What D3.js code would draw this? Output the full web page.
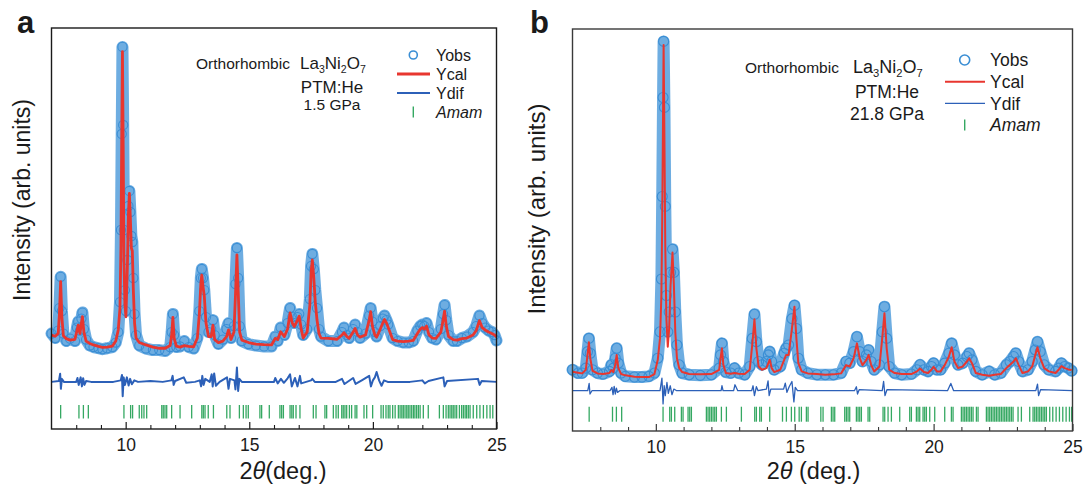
<!DOCTYPE html>
<html>
<head>
<meta charset="utf-8">
<script src="https://cdn.jsdelivr.net/npm/d3@7"></script>
<style>
body { margin: 0; background: #fff; }
text { font-family: "Liberation Sans", Arial, sans-serif; fill: #1a1a1a; }
</style>
</head>
<body>
<svg id="chart" width="1086" height="484"></svg>
<script>
// ---- panel a : 1.5 GPa ----  rows are [2theta, Yobs, Ycal]
const profileA = [
  [7.00,5.5,5.0],[7.15,4.0,4.6],[7.27,6.5,5.5],[7.32,14,12],[7.37,24.4,22.8],[7.42,13,11],[7.48,5.5,4.8],
  [7.60,3.0,3.8],[7.75,3.8,3.3],[7.95,3.0,3.6],[8.03,7.5,6.5],[8.08,9.5,8.3],[8.15,6.5,5.5],[8.21,10.5,9],
  [8.25,12.5,11.1],[8.31,7,6],[8.40,3.5,3.0],[8.55,1.5,2.2],[8.70,1.0,1.7],[8.90,0.6,1.2],[9.06,0.3,0.9],
  [9.25,0.6,1.0],[9.46,1.0,1.3],[9.60,2.5,3.0],[9.70,6.0,6.7],[9.77,16,14],[9.81,40,35],[9.84,72,70],
  [9.87,101,99.4],[9.90,75,68],[9.93,40,30],[9.97,20,15],[10.01,13,11.1],[10.07,30,28],[10.11,48,45],
  [10.15,53,52.2],[10.19,46,44],[10.23,38,34],[10.27,36,33],[10.31,24,20],[10.36,12,9],[10.42,5,4],
  [10.55,1.5,2.5],[10.82,0.5,1.7],[11.10,0.0,1.0],[11.36,0.0,0.6],[11.60,-0.3,0.6],[11.80,1.0,1.5],
  [11.86,6,5],[11.91,12,10.9],[11.96,5,4],[12.05,1,1.3],[12.20,1.2,1.0],[12.37,3.0,1.5],[12.55,1.0,1.2],
  [12.75,0.5,1.1],[12.90,4,4],[12.98,13,12],[13.04,24,22],[13.08,27,25],[13.13,24,21],[13.18,20,18],
  [13.25,11,9],[13.35,6,4.5],[13.46,7,4.5],[13.53,10,8.3],[13.60,5,3.5],[13.75,2,2.5],[13.93,3.5,3.0],
  [14.08,7,4.5],[14.16,9,6.7],[14.26,4,3.5],[14.38,8,6],[14.44,22,18],[14.50,34,31.7],[14.55,24,20],
  [14.61,8,6],[14.70,3,3.3],[14.97,2,2.5],[15.27,1.5,2.0],[15.60,1.2,1.8],[15.90,1.2,1.7],[16.05,4.5,3.9],
  [16.15,3,3.5],[16.27,7.5,6.1],[16.42,5,4.5],[16.55,9,7],[16.65,14,12.4],[16.74,11,9],[16.82,9,7.8],
  [16.95,11,10],[17.02,12,11.3],[17.10,8.5,7],[17.18,5,4],[17.34,7,6],[17.45,17,15],[17.50,28,26],
  [17.55,32,30],[17.61,27,24],[17.67,20,16],[17.74,14,10],[17.82,7,5.5],[17.90,4.5,4],[18.20,3,3.9],
  [18.55,3,3.6],[18.75,6,5],[18.83,7.5,5.8],[18.95,5,4.5],[19.04,4,3.9],[19.20,7,6],[19.28,8.5,7.2],
  [19.38,6,5],[19.48,4,4.3],[19.70,5.5,5],[19.85,11.5,10],[19.91,14,12.8],[19.98,9.5,8],[20.08,6,5],
  [20.15,4.5,4.3],[20.30,8,7],[20.40,10.5,9],[20.47,11.5,10.2],[20.55,10,9],[20.62,8.5,7.5],[20.80,4,3.5],
  [21.00,3,3.0],[21.23,2.5,2.8],[21.45,2.5,3.0],[21.63,3,3.2],[21.80,6.5,5.5],[21.92,8,7],[22.00,8.5,7.5],
  [22.08,8,7],[22.17,9,8],[22.27,6,5],[22.40,4,4],[22.55,3.5,3.9],[22.75,7,6],[22.84,12,10],[22.90,15,13],
  [22.97,10,8],[23.06,5,4.5],[23.25,3,3.5],[23.40,3,3.3],[23.60,4,3.8],[23.80,4.5,4],[24.05,6,5],
  [24.18,8,6.5],[24.31,11.5,9.8],[24.42,9,7.5],[24.54,7.5,6.7],[24.68,6.5,6],[24.81,6,5.5],[24.92,5,5],
  [25.00,3.2,4.4]
];
// difference curve [2theta, Yobs-Ycal]
const diffA = [
  [7.0,0],[7.30,0.3],[7.35,2.7],[7.38,-2.3],[7.42,1],[7.50,0],[8.00,0],[8.05,1.3],[8.10,-1],[8.18,1.5],
  [8.23,-1.5],[8.28,1.2],[8.33,-1],[8.40,0.3],[8.60,0],[9.50,0],[9.80,0.5],[9.85,2.3],[9.88,-4.8],
  [9.92,1.5],[9.97,-1],[10.05,1.5],[10.12,-1.2],[10.18,1],[10.25,-0.8],[10.35,0.5],[10.50,0],[11.0,0.3],
  [11.5,0],[11.85,0.5],[11.90,2],[11.94,-1],[12.0,0.3],[12.35,1.5],[12.45,-0.3],[12.8,0],[13.0,0.5],
  [13.05,-1.5],[13.10,2],[13.15,-1],[13.22,1],[13.40,0],[13.48,2.5],[13.52,-1.5],[13.58,2.8],[13.65,-1.3],
  [13.80,0],[14.10,1.5],[14.16,-2.3],[14.22,1],[14.40,0.5],[14.44,-2.5],[14.50,4.8],[14.55,-3],[14.60,1],
  [14.70,0],[16.0,0],[16.05,1.3],[16.15,-0.5],[16.28,1],[16.40,-0.3],[16.55,1.2],[16.65,2.5],[16.72,-1.5],
  [16.85,1.3],[16.95,-1.5],[17.05,2],[17.10,-0.5],[17.5,0.5],[17.55,1],[17.65,0],[18.5,0],[18.75,1],
  [18.85,-0.7],[19.2,1.3],[19.3,-0.7],[19.55,0.5],[19.85,2],[19.92,-1.5],[20.0,0.5],[20.08,1.5],
  [20.15,3.3],[20.25,0.5],[20.35,-1.3],[20.45,0.5],[20.6,0],[21.5,0],[22.0,0.5],[22.1,-0.5],[22.25,0.3],
  [22.85,1.5],[22.9,-1.5],[23.0,0.3],[24.25,1],[24.32,-1],[24.4,0.3],[25.0,0]
];
// Amam reflection positions
const hklA = [7.37,8.11,8.29,8.49,9.93,10.20,10.28,10.55,10.65,10.74,10.85,11.46,11.52,11.59,11.66,11.86,
  12.20,12.67,13.08,13.14,13.21,13.34,13.55,14.09,14.22,14.60,14.76,14.87,14.96,15.43,15.50,15.81,16.24,
  16.31,16.38,16.65,16.72,16.78,16.89,17.05,17.59,17.70,18.06,18.13,18.40,18.51,18.60,18.74,18.80,18.87,
  18.94,19.05,19.14,19.28,19.35,19.64,19.75,19.99,20.33,20.42,20.53,20.62,20.69,20.80,20.90,21.03,21.10,
  21.17,21.23,21.30,21.37,21.43,21.50,21.57,21.64,21.70,21.77,21.84,21.91,22.04,22.24,22.69,22.85,22.96,
  23.05,23.12,23.19,23.25,23.32,23.39,23.50,23.59,23.66,23.73,23.79,23.86,23.93,24.06,24.20,24.33,24.47,
  24.61,24.74,24.85];

// ---- panel b : 21.8 GPa ----  rows are [2theta, Yobs, Ycal]
const profileB = [
  [7.00,2.5,1.9],[7.20,1.5,1.6],[7.35,1.5,1.4],[7.48,3,2.5],[7.54,8,7],[7.59,12,10.8],[7.64,7.5,6],
  [7.72,2.5,2.2],[7.90,1.5,1.4],[8.10,1.2,1.2],[8.33,2,1.5],[8.40,4,2.4],[8.47,3,1.8],[8.54,6,4],
  [8.59,9,7],[8.65,4.5,3],[8.75,1.5,1.2],[8.90,0.5,0.8],[9.23,0.3,0.4],[9.50,0.3,0.3],[9.75,0.5,0.3],
  [9.95,1.5,1.2],[10.07,6,5.5],[10.15,14,12],[10.20,30,25],[10.23,55,48],[10.26,85,80],[10.28,102,100.9],
  [10.31,82,72],[10.34,52,40],[10.38,25,18],[10.43,14,9.5],[10.48,20,15],[10.53,32,28],[10.60,39,38],
  [10.65,32,28],[10.70,20,14],[10.76,10,6],[10.84,4,3],[10.95,1.5,1.8],[11.20,1.0,1.2],[11.60,0.8,1.1],
  [12.00,1.0,1.2],[12.28,3,2.5],[12.33,7,6],[12.38,10.5,9],[12.43,5,4],[12.52,1.8,1.5],[12.70,1.5,1.3],
  [12.83,3,1.5],[12.98,1.5,1.3],[13.20,1,1.2],[13.38,3.5,2.5],[13.47,12,10],[13.55,19.3,17.8],
  [13.62,11,9],[13.70,5,3.5],[13.82,4,2.5],[13.98,5,3],[14.05,7,4.5],[14.10,8,5.5],[14.17,5,3],
  [14.26,2.5,1.8],[14.48,3.5,2.5],[14.62,7.5,5.5],[14.69,9,7],[14.78,10,7],[14.90,18,15],[14.99,22,21.6],
  [15.06,15,12],[15.13,6,4.5],[15.25,2.5,2.0],[15.47,1.5,1.4],[15.80,1.0,1.2],[16.10,1.0,1.0],
  [16.40,1.0,1.1],[16.67,1.5,1.4],[16.85,5,3.9],[16.98,4.5,3.5],[17.12,8,6],[17.24,12.5,10.5],[17.34,8,6],
  [17.44,5,3.9],[17.58,7,5.5],[17.66,8.5,7],[17.75,5,4],[17.86,2.5,2],[18.05,4,3.5],[18.15,14,12],
  [18.23,21.6,19.6],[18.31,12,9],[18.40,3.5,2.5],[18.60,1.5,1.5],[18.85,1.0,1.2],[19.20,1.2,1.2],
  [19.40,2.5,2],[19.51,4,2.9],[19.65,2.5,1.8],[19.80,2,1.5],[19.92,3.5,2.5],[20.00,4.5,3.4],[20.12,2.5,2],
  [20.25,2.5,2],[20.40,4.5,3.9],[20.55,7.5,6.5],[20.65,10.5,9.3],[20.75,7,5],[20.88,4,3],[21.05,4.5,3.5],
  [21.20,6.5,5],[21.28,7.5,6],[21.38,5.5,4.5],[21.52,2,1.5],[21.75,1,1],[22.00,2,0.7],[22.20,1,1.0],
  [22.42,1.5,1.2],[22.62,4,3],[22.75,5,4],[22.88,6.5,5],[22.96,7.5,6],[23.06,5,4],[23.20,2,1.5],
  [23.40,2.5,2],[23.55,5,3.5],[23.66,8.5,7],[23.74,11,9.3],[23.84,8,6],[23.98,4,3],[24.15,2.5,2],
  [24.39,2,1.5],[24.50,3,2.5],[24.60,4.5,3.6],[24.72,3.5,3],[24.85,3,2.6],[24.97,2.2,2.4]
];
const diffB = [
  [7.0,0],[7.55,0],[7.60,2.2],[7.63,-1],[7.7,0],[8.35,0],[8.42,1],[8.46,-1.2],[8.50,1.3],[8.54,-1],
  [8.58,0.8],[8.62,-0.5],[8.7,0],[10.15,0],[10.22,3.8],[10.26,-4],[10.30,1.5],[10.34,-1.5],[10.40,2.5],
  [10.45,-0.8],[10.52,1.5],[10.58,-1.2],[10.65,0.5],[10.75,0],[12.35,0],[12.38,1.5],[12.42,0],[12.80,0],
  [12.85,1.8],[12.95,0],[13.45,0],[13.50,1.5],[13.55,-1.5],[13.62,1.2],[13.68,0],[13.98,0.5],[14.04,3],
  [14.08,-1.5],[14.14,0.5],[14.60,0.5],[14.66,2.3],[14.72,-0.5],[14.80,1.2],[14.90,2.8],[14.97,-3.4],
  [15.02,1],[15.10,0],[17.15,0],[17.22,1.2],[17.26,-1],[17.32,0.3],[18.15,0],[18.20,2.8],[18.25,-1.5],
  [18.32,0.3],[20.50,0],[20.62,2.2],[20.72,0],[23.68,0],[23.74,2],[23.78,-1.5],[23.85,0.3],[25.0,0]
];
const hklB = [7.60,8.44,8.58,8.77,10.26,10.50,10.56,10.68,10.92,10.98,11.16,11.22,11.28,11.82,11.88,11.94,
  12.00,12.06,12.12,12.18,12.36,12.54,13.08,13.56,13.62,13.74,13.80,14.10,14.56,14.70,14.88,15.00,15.16,
  15.24,15.42,15.48,15.94,16.02,16.32,16.38,16.44,16.80,16.86,16.92,16.98,17.22,17.28,17.34,17.40,17.64,
  17.70,18.18,18.24,18.36,18.48,18.78,19.14,19.20,19.38,19.44,19.50,19.62,19.68,19.74,19.86,20.04,20.40,
  20.64,20.70,21.00,21.06,21.12,21.18,21.24,21.30,21.36,21.42,21.54,21.60,21.90,21.96,22.02,22.08,22.14,
  22.20,22.26,22.32,22.38,22.44,22.50,22.56,22.62,22.68,22.74,22.80,22.86,23.04,23.16,23.46,23.58,23.64,
  23.70,23.76,23.82,23.88,23.94,24.00,24.06,24.18,24.29,24.41,24.53,24.65,24.77,24.89,24.97];

const xTickLabels = [10, 15, 20, 25];
const xMinorTicks = [8, 9, 11, 12, 13, 14, 16, 17, 18, 19, 21, 22, 23, 24];

const svg = d3.select('#chart');
svg.append('rect').attr('width', 1086).attr('height', 484).attr('fill', '#fff');

function drawPanel(o) {
  const x = d3.scaleLinear().domain([7, 25]).range([o.left, o.right]);
  const y = d3.scaleLinear().domain(o.yDomain).range([o.bottom, o.top]);
  const g = svg.append('g');

  // Yobs drawn as a band of overlapping open circles
  const obs = o.profile.map(d => [d[0], d[1]]);
  g.append('path')
    .datum(obs)
    .attr('d', d3.line().x(d => x(d[0])).y(d => y(d[1])))
    .attr('fill', 'none')
    .attr('stroke', '#4a98da')
    .attr('stroke-width', o.band)
    .attr('stroke-linejoin', 'round')
    .attr('stroke-linecap', 'round')
    .attr('opacity', 0.8);

  g.selectAll('circle.obs')
    .data(obs)
    .join('circle')
    .attr('class', 'obs')
    .attr('cx', d => x(d[0]))
    .attr('cy', d => y(d[1]))
    .attr('r', o.r)
    .attr('fill', 'none')
    .attr('stroke', '#3a8ed4')
    .attr('stroke-width', 1.1);

  // Ycal
  g.append('path')
    .datum(o.profile.map(d => [d[0], d[2]]))
    .attr('d', d3.line().x(d => x(d[0])).y(d => y(d[1])))
    .attr('fill', 'none')
    .attr('stroke', '#e8362f')
    .attr('stroke-width', o.calW)
    .attr('stroke-linejoin', 'round');

  // Ydif
  g.append('path')
    .datum(o.diff)
    .attr('d', d3.line().x(d => x(d[0])).y(d => y(o.difOffset + d[1])))
    .attr('fill', 'none')
    .attr('stroke', '#2c60b8')
    .attr('stroke-width', o.difW)
    .attr('stroke-linejoin', 'round');

  // reflection ticks
  g.selectAll('line.hkl')
    .data(o.hkl)
    .join('line')
    .attr('x1', d => x(d)).attr('x2', d => x(d))
    .attr('y1', y(o.hklRow[0])).attr('y2', y(o.hklRow[1]))
    .attr('stroke', '#35a862')
    .attr('stroke-width', 1.3);

  // frame
  g.append('rect')
    .attr('x', o.left).attr('y', o.top)
    .attr('width', o.right - o.left).attr('height', o.bottom - o.top)
    .attr('fill', 'none')
    .attr('stroke', o.frame)
    .attr('stroke-width', 1.4);

  // x axis, ticks pointing inward
  const major = g.append('g').attr('transform', `translate(0,${o.bottom})`)
    .call(d3.axisBottom(x).tickValues(xTickLabels).tickSize(-7).tickPadding(10).tickFormat(d3.format('d')));
  major.select('.domain').remove();
  major.selectAll('line').attr('stroke', o.frame).attr('stroke-width', 1.2);
  major.selectAll('text').attr('font-size', 17.5).attr('font-family', '"Liberation Sans", Arial, sans-serif').attr('fill', '#1a1a1a');

  const minor = g.append('g').attr('transform', `translate(0,${o.bottom})`)
    .call(d3.axisBottom(x).tickValues(xMinorTicks).tickSize(-4).tickFormat(''));
  minor.select('.domain').remove();
  minor.selectAll('line').attr('stroke', o.frame).attr('stroke-width', 1.1);

  // axis titles
  const xt = g.append('text')
    .attr('x', (o.left + o.right) / 2 + o.xTitleShift).attr('y', 479)
    .attr('text-anchor', 'middle').attr('font-size', 23.5);
  xt.append('tspan').text('2');
  xt.append('tspan').attr('font-style', 'italic').text('θ');
  xt.append('tspan').text(o.xTitleRest);

  g.append('text')
    .attr('transform', `translate(${o.yTitleX},${o.yTitleY}) rotate(-90)`)
    .attr('text-anchor', 'middle').attr('font-size', o.yTitleSize)
    .text('Intensity (arb. units)');

  // panel letter
  g.append('text').attr('x', o.letterX).attr('y', 33)
    .attr('font-size', 31).attr('font-weight', 'bold').text(o.letter);

  // annotations
  const t = o.txt;
  g.append('text').attr('x', t.orthoX).attr('y', t.orthoY).attr('font-size', 15.5).text('Orthorhombic');
  const f = g.append('text').attr('x', t.formX).attr('y', t.formY).attr('font-size', t.formSize);
  const sub = t.formSize * 0.62;
  f.append('tspan').text('La');
  f.append('tspan').attr('dy', 4).attr('font-size', sub).text('3');
  f.append('tspan').attr('dy', -4).text('Ni');
  f.append('tspan').attr('dy', 4).attr('font-size', sub).text('2');
  f.append('tspan').attr('dy', -4).text('O');
  f.append('tspan').attr('dy', 4).attr('font-size', sub).text('7');
  g.append('text').attr('x', t.midX).attr('y', t.ptmY).attr('text-anchor', 'middle')
    .attr('font-size', t.ptmSize).text('PTM:He');
  g.append('text').attr('x', t.midX).attr('y', t.pY).attr('text-anchor', 'middle')
    .attr('font-size', t.pSize).text(o.pressure);

  // legend
  const L = o.leg;
  g.append('circle').attr('cx', L.x).attr('cy', L.y0).attr('r', L.r)
    .attr('fill', 'none').attr('stroke', '#3a8ed4').attr('stroke-width', 1.6);
  g.append('line').attr('x1', L.x1).attr('x2', L.x2).attr('y1', L.y0 + L.dy).attr('y2', L.y0 + L.dy)
    .attr('stroke', '#e8362f').attr('stroke-width', o.calW);
  g.append('line').attr('x1', L.x1).attr('x2', L.x2).attr('y1', L.y0 + 2 * L.dy).attr('y2', L.y0 + 2 * L.dy)
    .attr('stroke', '#2c60b8').attr('stroke-width', o.difW);
  g.append('line').attr('x1', L.x).attr('x2', L.x).attr('y1', L.y0 + 3 * L.dy - 5.5).attr('y2', L.y0 + 3 * L.dy + 5.5)
    .attr('stroke', '#35a862').attr('stroke-width', 1.4);
  ['Yobs', 'Ycal', 'Ydif', 'Amam'].forEach((s, i) => {
    g.append('text').attr('x', L.tx).attr('y', L.y0 + i * L.dy + L.size * 0.36)
      .attr('font-size', L.size).attr('font-style', i === 3 ? 'italic' : 'normal').text(s);
  });
}

drawPanel({
  profile: profileA, diff: diffA, hkl: hklA,
  left: 51.5, right: 496.5, top: 28, bottom: 429,
  yDomain: [-26.3, 107.3], difOffset: -10.6, hklRow: [-18.3, -22.8],
  band: 12, r: 4.6, calW: 2.8, difW: 2, frame: '#1a1a1a',
  xTitleShift: 9, xTitleRest: '(deg.)', yTitleX: 30, yTitleY: 200, yTitleSize: 23,
  letter: 'a', letterX: 17, pressure: '1.5 GPa',
  txt: { orthoX: 196, orthoY: 69, formX: 300, formY: 69, formSize: 17,
         midX: 332, ptmY: 93, ptmSize: 17, pY: 110, pSize: 15.5 },
  leg: { x: 413.3, y0: 55, dy: 19, r: 4, x1: 397, x2: 430, tx: 436, size: 16 }
});

drawPanel({
  profile: profileB, diff: diffB, hkl: hklB,
  left: 572.5, right: 1072.5, top: 29, bottom: 431,
  yDomain: [-16.06, 105.76], difOffset: -3.85, hklRow: [-8.7, -13.24],
  band: 12, r: 5, calW: 2, difW: 1.3, frame: '#3a3a3a',
  xTitleShift: -9, xTitleRest: ' (deg.)', yTitleX: 545, yTitleY: 209, yTitleSize: 24,
  letter: 'b', letterX: 530, pressure: '21.8 GPa',
  txt: { orthoX: 745, orthoY: 72.5, formX: 853, formY: 73, formSize: 18,
         midX: 887, ptmY: 98, ptmSize: 17.5, pY: 119.5, pSize: 17.5 },
  leg: { x: 964.7, y0: 60, dy: 21.7, r: 5, x1: 945, x2: 985, tx: 990, size: 17.5 }
});
</script>
</body>
</html>
